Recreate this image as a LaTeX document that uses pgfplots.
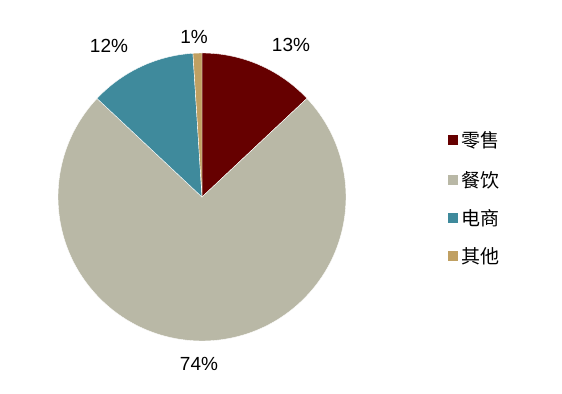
\documentclass[border=0pt]{standalone}
\usepackage{pgfplots}
\usepackage{pgfplotstable}
\pgfplotsset{compat=1.18}
\usepackage{fontspec}
\setmainfont{Liberation Sans}
\newfontfamily\cjk{Noto Sans CJK SC}
\definecolor{c1}{HTML}{660000}
\definecolor{c2}{HTML}{B9B8A6}
\definecolor{c3}{HTML}{3F8A9C}
\definecolor{c4}{HTML}{C0A062}
\pgfplotstableread{
idx value
0 13
1 74
2 12
3 1
}\piedata
\begin{document}%
\pgfplotstablegetelem{0}{value}\of\piedata\pgfmathsetmacro\va{\pgfplotsretval}%
\pgfplotstablegetelem{1}{value}\of\piedata\pgfmathsetmacro\vb{\pgfplotsretval}%
\pgfplotstablegetelem{2}{value}\of\piedata\pgfmathsetmacro\vc{\pgfplotsretval}%
\pgfplotstablegetelem{3}{value}\of\piedata\pgfmathsetmacro\vd{\pgfplotsretval}%
\pgfmathsetmacro\tot{\va+\vb+\vc+\vd}%
\pgfmathsetmacro\aA{90}%
\pgfmathsetmacro\aB{\aA-\va/\tot*360}%
\pgfmathsetmacro\aC{\aB-\vb/\tot*360}%
\pgfmathsetmacro\aD{\aC-\vc/\tot*360}%
\pgfmathsetmacro\aE{\aD-\vd/\tot*360}%
\begin{tikzpicture}
\begin{axis}[
  width=562bp, height=394bp, scale only axis,
  xmin=0, xmax=562, ymin=0, ymax=394,
  hide axis, clip=false,
]
\addplot[draw=none, forget plot] coordinates {(0,0) (562,394)};
\fill[c1, draw=white, line width=0.4pt] (axis cs:202,197) -- ++(\aA:144bp) arc[start angle=\aA, end angle=\aB, radius=144bp] -- cycle;
\fill[c2, draw=white, line width=0.4pt] (axis cs:202,197) -- ++(\aB:144bp) arc[start angle=\aB, end angle=\aC, radius=144bp] -- cycle;
\fill[c3, draw=white, line width=0.4pt] (axis cs:202,197) -- ++(\aC:144bp) arc[start angle=\aC, end angle=\aD, radius=144bp] -- cycle;
\fill[c4, draw=white, line width=0.4pt] (axis cs:202,197) -- ++(\aD:144bp) arc[start angle=\aD, end angle=\aE, radius=144bp] -- cycle;
\node[font=\fontsize{19bp}{22bp}\selectfont] at (axis cs:291,349) {13\%};
\node[font=\fontsize{19bp}{22bp}\selectfont] at (axis cs:194,357) {1\%};
\node[font=\fontsize{19bp}{22bp}\selectfont] at (axis cs:109,348) {12\%};
\node[font=\fontsize{19bp}{22bp}\selectfont] at (axis cs:199,30) {74\%};
\fill[c1] (axis cs:448,249) rectangle (axis cs:458,259);
\fill[c2] (axis cs:448,209) rectangle (axis cs:458,219);
\fill[c3] (axis cs:448,171) rectangle (axis cs:458,181);
\fill[c4] (axis cs:448,133) rectangle (axis cs:458,143);
\node[anchor=west, inner sep=0pt, font=\cjk\fontsize{19bp}{22bp}\selectfont] at (axis cs:461,254) {零售};
\node[anchor=west, inner sep=0pt, font=\cjk\fontsize{19bp}{22bp}\selectfont] at (axis cs:461,214) {餐饮};
\node[anchor=west, inner sep=0pt, font=\cjk\fontsize{19bp}{22bp}\selectfont] at (axis cs:461,176) {电商};
\node[anchor=west, inner sep=0pt, font=\cjk\fontsize{19bp}{22bp}\selectfont] at (axis cs:461,138) {其他};
\end{axis}
\end{tikzpicture}%
\end{document}
